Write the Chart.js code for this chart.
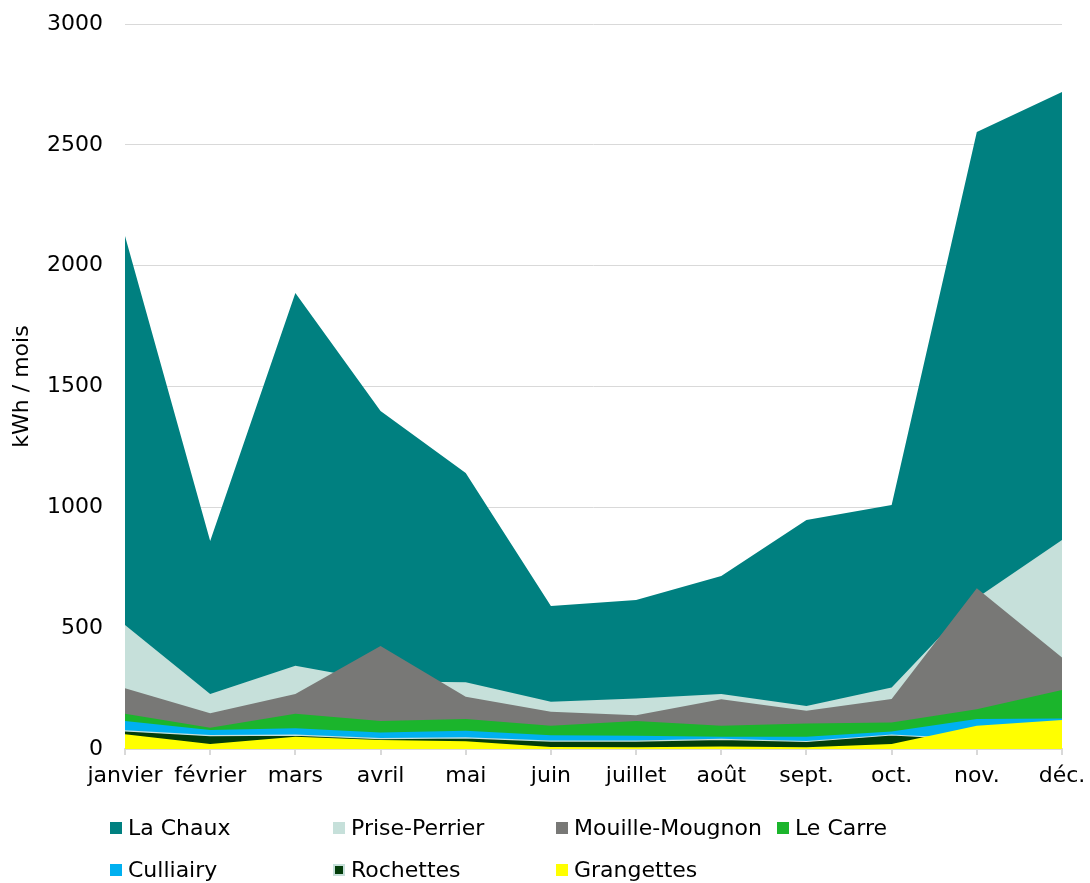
<!DOCTYPE html>
<html>
<head>
<meta charset="utf-8">
<script src="https://cdn.jsdelivr.net/npm/chart.js@4/dist/chart.umd.min.js"></script>
<style>
  html, body { margin: 0; padding: 0; background: #fff; }
  #wrap { position: relative; width: 1090px; height: 883px; }
  canvas { position: absolute; left: 0; top: 0; }
  .leg { position: absolute; font-family: "DejaVu Sans", sans-serif; font-size: 22px; color: #000; line-height: 26px; white-space: nowrap; }
  .leg .box { display: inline-block; width: 12px; height: 12px; margin-right: 6px; vertical-align: 1px; box-sizing: border-box; }
</style>
</head>
<body>
<div id="wrap">
  <canvas id="c" width="1090" height="883"></canvas>
  <div id="legend"></div>
</div>
<script>
const months = ['janvier', 'février', 'mars', 'avril', 'mai', 'juin', 'juillet', 'août', 'sept.', 'oct.', 'nov.', 'déc.'];
const seriesNames = ['La Chaux', 'Prise-Perrier', 'Mouille-Mougnon', 'Le Carre', 'Culliairy', 'Rochettes', 'Grangettes'];
const laChaux       = [2123, 861, 1887, 1399, 1142, 592, 617, 716, 948, 1010, 2553, 2719];
const prisePerrier  = [513, 228, 345, 280, 276, 196, 209, 228, 178, 255, 625, 865];
const mouilleMougnon= [251, 148, 228, 426, 216, 154, 140, 206, 158, 207, 665, 379];
const leCarre       = [146, 88, 146, 116, 124, 96, 116, 96, 106, 110, 164, 244];
const culliairy     = [116, 79, 86, 68, 76, 57, 55, 51, 51, 72, 124, 126];
const rochettes     = [75, 55, 57, 43, 46, 33, 33, 40, 31, 58, 40, 40];
const grangettes    = [61, 21, 51, 37, 32, 8, 7, 10, 7, 21, 96, 120];
const yTicks = [0, 500, 1000, 1500, 2000, 2500, 3000];

const colors = ['#008080', '#c6e0da', '#787876', '#1bb52c', '#00b0f0', '#033d0a', '#ffff00'];
const values = [laChaux, prisePerrier, mouilleMougnon, leCarre, culliairy, rochettes, grangettes];

const FONT = '"DejaVu Sans", sans-serif';

const datasets = seriesNames.map((name, i) => ({
  label: name,
  data: values[i],
  backgroundColor: colors[i],
  borderColor: name === 'Rochettes' ? '#c6e0da' : colors[i],
  borderWidth: name === 'Rochettes' ? 1.2 : 0,
  fill: 'origin',
  pointRadius: 0,
  tension: 0,
  order: seriesNames.length - 1 - i
}));

new Chart(document.getElementById('c'), {
  type: 'line',
  data: { labels: months, datasets },
  options: {
    responsive: false,
    animation: false,
    layout: { padding: { top: 24, right: 28, bottom: 90, left: 0 } },
    plugins: { legend: { display: false }, tooltip: { enabled: false } },
    scales: {
      x: {
        offset: false,
        grid: { display: true, drawOnChartArea: false, drawTicks: true, tickLength: 6, color: '#d9d9d9', lineWidth: 2 },
        border: { display: true, color: '#d9d9d9', width: 2 },
        ticks: { color: '#000', font: { family: FONT, size: 22 }, padding: 8, maxRotation: 0, autoSkip: false },
        afterFit: (s) => { s.height = 44; s.paddingLeft = 0; s.paddingRight = 0; }
      },
      y: {
        min: 0, max: 3000,
        afterBuildTicks: (s) => { s.ticks = yTicks.map(v => ({ value: v })); },
        grid: { color: '#d9d9d9', lineWidth: 1, drawTicks: false },
        border: { display: false },
        ticks: { color: '#000', font: { family: FONT, size: 22 }, padding: 22, callback: (v) => String(v) },
        title: { display: true, text: 'kWh / mois', color: '#000', font: { family: FONT, size: 22 }, padding: { top: 9, bottom: 0 } },
        afterFit: (s) => { s.width = 125; s.paddingTop = 0; s.paddingBottom = 0; }
      }
    }
  }
});

// HTML legend in a fixed grid
const legend = document.getElementById('legend');
const colX = [110, 333, 556, 777];
const rowY = [815, 857];
seriesNames.forEach((name, i) => {
  const d = document.createElement('div');
  d.className = 'leg';
  const col = i < 4 ? i : i - 4;
  const row = i < 4 ? 0 : 1;
  d.style.left = colX[col] + 'px';
  d.style.top = rowY[row] + 'px';
  const b = document.createElement('span');
  b.className = 'box';
  b.style.background = colors[i];
  if (name === 'Rochettes') b.style.border = '2px solid #c6e0da';
  d.appendChild(b);
  d.appendChild(document.createTextNode(name));
  legend.appendChild(d);
});
</script>
</body>
</html>
